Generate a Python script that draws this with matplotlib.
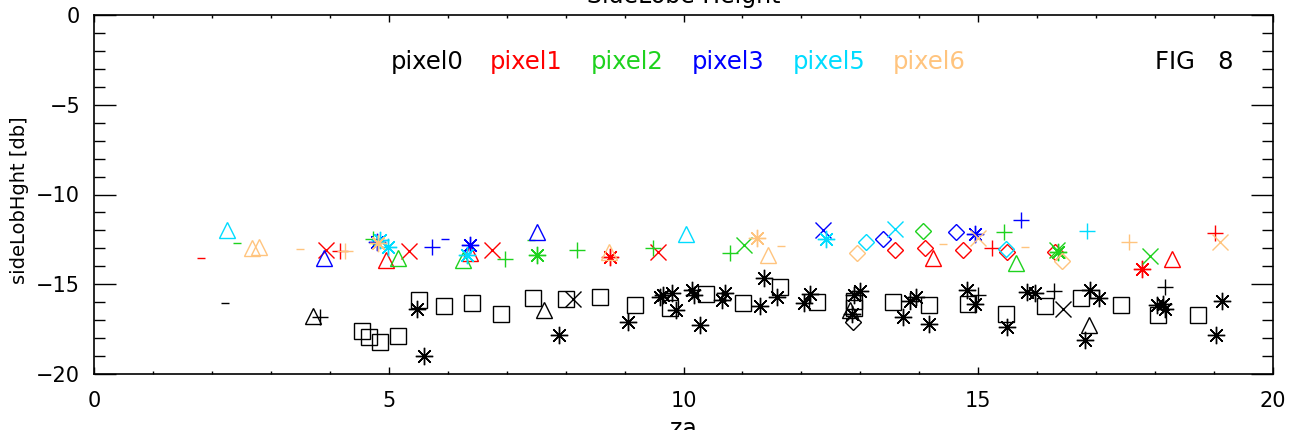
import matplotlib
matplotlib.use("Agg")
import matplotlib.pyplot as plt
from matplotlib.ticker import MultipleLocator

plt.rcParams['font.family'] = ['Liberation Sans Narrow', 'DejaVu Sans']

# ---- data: (za, sideLobHght) and marker code per point ----
pix0_x = [2.23, 3.72, 3.83, 4.54, 4.66, 4.85, 5.15, 5.51, 5.48, 5.59, 5.93, 6.41, 6.90, 7.44, 7.63,
          7.88, 8.01, 8.13, 8.58, 9.18, 9.06, 9.60, 9.66, 9.80, 9.77, 9.88, 10.14, 10.17, 10.39, 10.28,
          10.70, 10.65, 11.01, 11.29, 11.37, 11.64, 11.58, 12.15, 12.04, 12.27, 12.90, 12.99, 12.89,
          12.89, 12.83, 12.85, 12.87, 13.55, 13.73, 13.84, 13.94, 14.17, 14.17, 14.81, 14.83, 14.94,
          15.00, 15.47, 15.48, 15.82, 15.96, 16.28, 16.13, 16.43, 16.75, 16.90, 17.04, 16.88, 16.81,
          17.42, 18.16, 18.03, 18.14, 18.17, 18.05, 18.73, 19.13, 19.04]
pix0_y = [-16.03, -16.77, -16.80, -17.60, -17.94, -18.20, -17.90, -15.90, -16.36, -19.00, -16.23, -16.03,
          -16.68, -15.75, -16.45, -17.81, -15.84, -15.80, -15.71, -16.14, -17.10, -15.71, -15.60, -15.50,
          -16.34, -16.43, -15.34, -15.60, -15.56, -17.29, -15.50, -15.90, -16.03, -16.20, -14.65, -15.15,
          -15.71, -15.52, -16.03, -15.99, -15.60, -15.40, -15.95, -16.30, -16.45, -16.64, -17.10, -15.99,
          -16.82, -15.95, -15.71, -16.17, -17.20, -15.34, -16.08, -16.08, -15.60, -16.64, -17.38, -15.43,
          -15.47, -15.39, -16.23, -16.40, -15.77, -15.34, -15.77, -17.29, -18.12, -16.14, -15.15, -16.17,
          -16.08, -16.36, -16.73, -16.70, -15.95, -17.81]
pix0_m = ['da', 'tr', 'pl', 'sq', 'sq', 'sq', 'sq', 'sq', 'as', 'as', 'sq', 'sq', 'sq', 'sq', 'tr',
          'as', 'sq', 'xx', 'sq', 'sq', 'as', 'as', 'as', 'as', 'sq', 'as', 'as', 'as', 'sq', 'as',
          'as', 'as', 'sq', 'as', 'as', 'sq', 'as', 'as', 'as', 'sq', 'as', 'as', 'sq',
          'sq', 'tr', 'as', 'di', 'sq', 'as', 'as', 'as', 'sq', 'as', 'as', 'sq', 'as',
          'pl', 'sq', 'as', 'as', 'as', 'pl', 'sq', 'xx', 'sq', 'as', 'as', 'tr', 'as',
          'sq', 'pl', 'as', 'as', 'as', 'sq', 'sq', 'as', 'as']

pix1_x = [1.82, 3.93, 4.17, 4.95, 5.35, 6.38, 6.75, 8.75, 9.57, 13.59, 14.10, 14.24, 14.74, 15.23,
          15.49, 16.30, 17.78, 18.28, 19.02]
pix1_y = [-13.54, -13.09, -13.13, -13.65, -13.13, -13.28, -13.09, -13.50, -13.19, -13.09, -13.00,
          -13.56, -13.09, -13.00, -13.19, -13.19, -14.17, -13.61, -12.16]
pix1_m = ['da', 'xx', 'pl', 'tr', 'xx', 'tr', 'xx', 'as', 'xx', 'di', 'di', 'tr', 'di', 'pl',
          'di', 'di', 'as', 'tr', 'pl']

pix2_x = [2.42, 4.73, 5.16, 6.26, 6.97, 7.42, 7.51, 8.20, 9.49, 10.79, 11.03, 14.06, 15.44, 15.64,
          16.36, 16.33, 17.91]
pix2_y = [-12.72, -12.50, -13.56, -13.65, -13.61, -12.53, -13.37, -13.09, -13.00, -13.24, -12.81,
          -12.01, -12.07, -13.83, -13.19, -13.10, -13.41]
pix2_m = ['da', 'pl', 'tr', 'tr', 'pl', 'da', 'as', 'pl', 'pl', 'pl', 'xx', 'di', 'pl', 'tr',
          'as', 'xx', 'xx']

pix3_x = [3.90, 4.80, 5.74, 5.95, 6.38, 7.52, 12.37, 13.39, 14.62, 14.94, 15.72]
pix3_y = [-13.56, -12.63, -12.90, -12.48, -12.81, -12.07, -11.98, -12.50, -12.07, -12.20, -11.42]
pix3_m = ['tr', 'as', 'pl', 'da', 'as', 'tr', 'xx', 'di', 'di', 'as', 'pl']

pix5_x = [2.26, 4.85, 4.99, 6.32, 10.04, 12.42, 13.09, 13.59, 15.47, 16.84]
pix5_y = [-11.98, -12.53, -12.90, -13.37, -12.20, -12.50, -12.66, -11.90, -13.05, -12.01]
pix5_m = ['tr', 'as', 'as', 'as', 'tr', 'as', 'di', 'xx', 'di', 'pl']

pix6_x = [2.68, 2.80, 3.49, 4.26, 4.81, 8.73, 11.24, 11.65, 11.44, 12.94, 14.41, 15.00, 15.79,
          16.42, 17.56, 19.10]
pix6_y = [-13.00, -12.90, -13.04, -13.13, -12.72, -13.19, -12.44, -12.85, -13.37, -13.28, -12.76,
          -12.40, -12.94, -13.69, -12.66, -12.66]
pix6_m = ['tr', 'tr', 'da', 'pl', 'as', 'tr', 'as', 'da', 'tr', 'di', 'da', 'xx', 'da',
          'di', 'pl', 'xx']

labels = ['pixel0', 'pixel1', 'pixel2', 'pixel3', 'pixel5', 'pixel6']
colors = ['black', '#ff0000', '#1ed21e', '#0000ff', '#00dcff', '#ffc47e']

series = [(pix0_x, pix0_y, pix0_m), (pix1_x, pix1_y, pix1_m), (pix2_x, pix2_y, pix2_m),
          (pix3_x, pix3_y, pix3_m), (pix5_x, pix5_y, pix5_m), (pix6_x, pix6_y, pix6_m)]

# marker styles: (matplotlib marker, size in pt)
mstyle = {
    'sq': ('s', 12.0),
    'tr': ('^', 12.0),
    'di': ('D', 8.6),
    'pl': ('+', 12.0),
    'xx': ('x', 12.0),
    'as': ((8, 2, 0), 12.5),
    'da': ('_', 5.5),
}

fig = plt.figure(figsize=(12.89, 4.30), dpi=100)
ax = fig.add_axes([94 / 1289, 1 - 374 / 430, (1273 - 94) / 1289, (374 - 15) / 430])

for (xs, ys, ms), c in zip(series, colors):
    for code in mstyle:
        px = [x for x, m in zip(xs, ms) if m == code]
        py = [y for y, m in zip(ys, ms) if m == code]
        if not px:
            continue
        mk, sz = mstyle[code]
        ax.plot(px, py, linestyle='none', marker=mk, markersize=sz,
                markerfacecolor='none', markeredgecolor=c, markeredgewidth=1.0)

ax.set_xlim(0, 20)
ax.set_ylim(-20, 0)
ax.xaxis.set_major_locator(MultipleLocator(5))
ax.xaxis.set_minor_locator(MultipleLocator(1))
ax.yaxis.set_major_locator(MultipleLocator(5))
ax.yaxis.set_minor_locator(MultipleLocator(1))
ax.tick_params(axis='both', which='both', direction='in', top=True, right=True,
               labelsize=15, width=1.0)
ax.tick_params(axis='x', which='major', length=5, pad=12)
ax.tick_params(axis='x', which='minor', length=2.5)
ax.tick_params(axis='y', which='major', length=16, pad=10)
ax.tick_params(axis='y', which='minor', length=8)
ax.xaxis.set_major_formatter(matplotlib.ticker.FuncFormatter(lambda v, p: f"{v:.0f}"))
ax.yaxis.set_major_formatter(matplotlib.ticker.FuncFormatter(
    lambda v, p: f"\u2212{abs(v):.0f}" if v < 0 else f"{v:.0f}"))
for sp in ax.spines.values():
    sp.set_linewidth(1.2)

# legend-like labels
lx = [5.04, 6.72, 8.43, 10.14, 11.86, 13.55]
for t, c, x in zip(labels, colors, lx):
    ax.text(x, -2.62, t, color=c, fontsize=17.5, ha='left', va='center')
ax.text(18.0, -2.62, 'FIG   8', color='black', fontsize=17.5, ha='left', va='center')

fig.text(683.5 / 1289, 1 - 3 / 430, 'SideLobe Height', ha='center', va='baseline', fontsize=17)
fig.text(683.5 / 1289, 1 - 436 / 430, 'za', ha='center', va='baseline', fontsize=17)
fig.text(20 / 1289, 1 - 200 / 430, 'sideLobHght [db]', ha='center', va='center',
         rotation=90, fontsize=14)

fig.savefig('out.png', dpi=100)
